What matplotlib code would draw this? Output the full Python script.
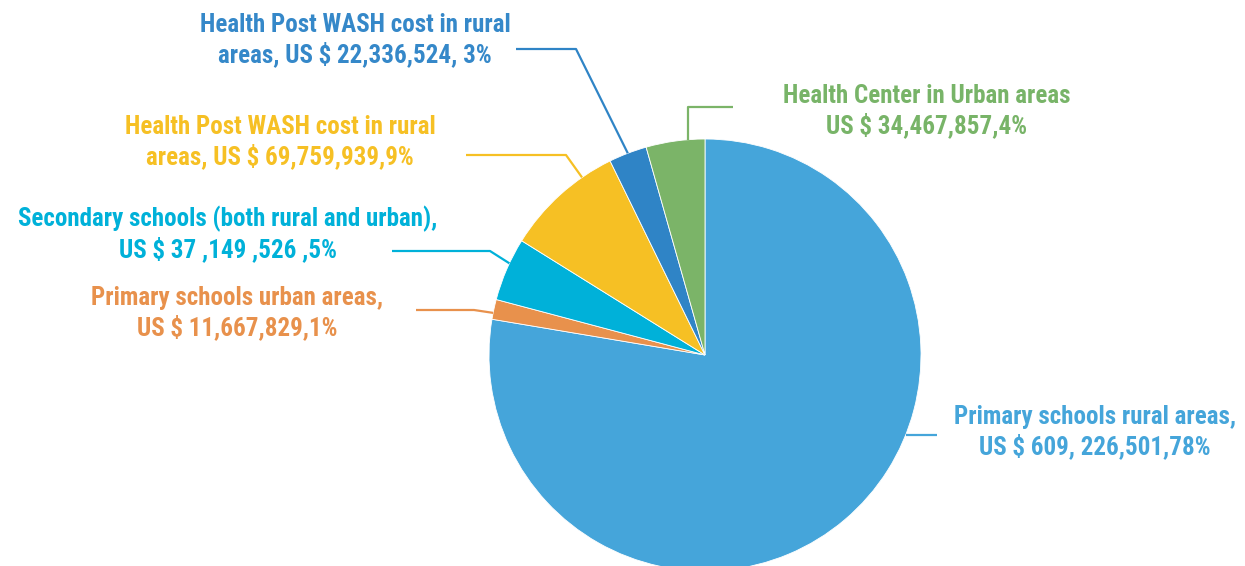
import numpy as np
import matplotlib.pyplot as plt

# WASH cost breakdown (US $)
labels = [
    'Primary schools rural areas,\nUS $ 609, 226,501,78%',
    'Primary schools urban areas,\nUS $ 11,667,829,1%',
    'Secondary schools (both rural and urban),\nUS $ 37 ,149 ,526 ,5%',
    'Health Post WASH cost in rural\nareas, US $ 69,759,939,9%',
    'Health Post WASH cost in rural\nareas, US $ 22,336,524, 3%',
    'Health Center in Urban areas\nUS $ 34,467,857,4%',
]
costs = [609226501, 11667829, 37149526, 69759939, 22336524, 34467857]
colors = ['#45A5DA', '#E8914C', '#00B1D9', '#F6C024', '#2F84C6', '#7BB468']
text_colors = ['#45A5DA', '#E8914C', '#00B1D9', '#F6C024', '#3588C9', '#78B468']

W, H = 1245, 566

# label layout in pixels (y from top): text centre, where the leader hits the wedge
# (fraction along the wedge), elbow and the end of the leader next to the text
text_xy = [(1095, 432), (237, 313), (228, 234), (280, 142), (355, 40), (927, 111)]
anchor_frac = [0.60, 0.68, 0.40, 0.27, 0.50, 0.28]
elbow = [(None, None), (474, 310), (490, 251), (566, 155), (576, 49), (None, 107)]
line_end_x = [937, 416, 392, 466, 516, 733]

plt.rcParams['font.family'] = ['Roboto Condensed', 'Roboto', 'DejaVu Sans']

fig = plt.figure(figsize=(W / 100, H / 100), dpi=100)
ax = fig.add_axes([0, 0, 1, 1])
ax.set_xlim(0, W)
ax.set_ylim(0, H)
ax.set_aspect('equal')
ax.axis('off')

cx, cy, r = 705, H - 355, 216
wedges, _ = ax.pie(costs, colors=colors, startangle=90, counterclock=False,
                   center=(cx, cy), radius=r,
                   wedgeprops=dict(edgecolor='white', linewidth=0.6))
ax.set_xlim(0, W)
ax.set_ylim(0, H)

for w, lab, tc, (tx, ty), f, (ex, ey), lx in zip(
        wedges, labels, text_colors, text_xy, anchor_frac, elbow, line_end_x):
    ang = np.deg2rad(w.theta1 + f * (w.theta2 - w.theta1))
    wx = cx + r * np.cos(ang)
    wy = cy + r * np.sin(ang)
    ex = wx if ex is None else ex
    ey = wy if ey is None else H - ey
    ax.plot([wx, ex, lx], [wy, ey, ey], color=w.get_facecolor(), lw=1.6,
            solid_capstyle='butt', zorder=3)
    ax.text(tx, H - ty, lab, color=tc, ha='center', va='center',
            fontsize=18, fontweight='bold', linespacing=1.2)

fig.savefig('out.png', dpi=100)
